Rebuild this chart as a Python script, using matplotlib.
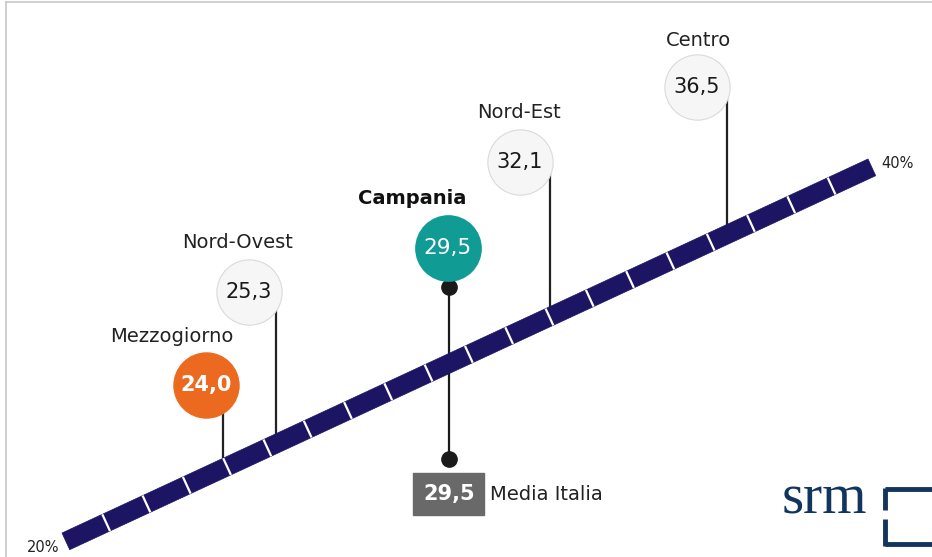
import matplotlib.pyplot as plt
from matplotlib.patches import Polygon, Rectangle
import numpy as np

plt.rcParams['font.family'] = ['DejaVu Sans']

# data (%, valori)
regions = ['Mezzogiorno', 'Nord-Ovest', 'Nord-Est', 'Centro']
values = [24.0, 25.3, 32.1, 36.5]
value_labels = ['24,0', '25,3', '32,1', '36,5']
campania_value = 29.5
campania_label = '29,5'
italia_value = 29.5
italia_label = '29,5'
scale_min, scale_max = 20, 40
scale_labels = ['20%', '40%']

# layout (pixels)
W, H = 932, 557
X0 = 62.0        # pixel x of 20%
PXU = 40.3       # pixels per percentage point
Y0 = 533.0       # pixel y of band top edge at 20%
SLOPE = 18.7     # pixels up per percentage point
THICK_X, THICK_Y = 7.7, 16.7
circle_dx = [-17, -27, -30, -30]       # circle centre offset from leader
circle_y = [385, 292, 162, 87]
label_dx = [-51, -38, -31, -28]
label_y = [337, 243, 113, 40]
circle_fill = ['#ec6a1f', '#f6f6f6', '#f6f6f6', '#f6f6f6']
circle_text = ['white', '#1a1a1a', '#1a1a1a', '#1a1a1a']
circle_weight = ['bold', 'normal', 'normal', 'normal']

NAVY = '#1c1564'
TEAL = '#109c94'


def dv(px):
    return px / PXU


def ytop(v):
    return Y0 - (v - scale_min) * SLOPE


fig = plt.figure(figsize=(W / 100, H / 100), dpi=100)
ax = fig.add_axes([0, 0, 1, 1])
ax.set_xlim(scale_min - dv(X0), scale_min + dv(W - X0))
ax.set_ylim(H, 0)
ax.axis('off')

# frame lines
ax.plot([scale_min - dv(X0 - 6), scale_min + dv(W - X0)], [2, 2], color='#c8c8c8', lw=1.2)
ax.plot([scale_min - dv(X0 - 6)] * 2, [2, H], color='#c8c8c8', lw=1.2)

# band
band = Polygon([(scale_min, ytop(scale_min)), (scale_max, ytop(scale_max)),
                (scale_max + dv(THICK_X), ytop(scale_max) + THICK_Y),
                (scale_min + dv(THICK_X), ytop(scale_min) + THICK_Y)],
               closed=True, facecolor=NAVY, edgecolor=NAVY, lw=0.5, zorder=3)
ax.add_patch(band)
for t in np.arange(scale_min + 1, scale_max):
    ax.plot([t, t + dv(THICK_X)], [ytop(t), ytop(t) + THICK_Y], color='white', lw=1.6,
            solid_capstyle='butt', zorder=4)

ax.text(scale_min - dv(3), ytop(scale_min) + 14, scale_labels[0], ha='right', va='center',
        fontsize=10.5, color='#222222')
ax.text(scale_max + dv(THICK_X + 6), ytop(scale_max) + 4, scale_labels[1], ha='left', va='center',
        fontsize=10.5, color='#222222')

# regions
for i, (name, v) in enumerate(zip(regions, values)):
    cx = v + dv(circle_dx[i])
    ax.plot([v, v], [circle_y[i], ytop(v)], color='#222222', lw=1.6, zorder=2)
    ax.scatter([cx], [circle_y[i]], s=47 ** 2, color=circle_fill[i],
               edgecolors='#dadada' if circle_fill[i] != '#ec6a1f' else '#ec6a1f',
               linewidths=0.8, zorder=5)
    ax.text(cx, circle_y[i], value_labels[i], ha='center', va='center', fontsize=15,
            color=circle_text[i], fontweight=circle_weight[i], zorder=6)
    ax.text(v + dv(label_dx[i]), label_y[i], name, ha='center', va='center', fontsize=14,
            color='#222222')

# Campania and media Italia
cv = campania_value + dv(4)
ax.plot([cv, cv], [287, 459], color='#1a1a1a', lw=1.6, zorder=2)
ax.scatter([cv, cv], [287, 459], s=11 ** 2, color='#1a1a1a', zorder=3)
ax.scatter([cv - dv(1)], [248], s=47 ** 2, color=TEAL, edgecolors=TEAL, zorder=5)
ax.text(cv - dv(1), 248, campania_label, ha='center', va='center', fontsize=15.5,
        color='white', zorder=6)
ax.text(cv - dv(37), 198, 'Campania', ha='center', va='center', fontsize=14,
        fontweight='bold', color='#111111')

ax.add_patch(Rectangle((cv - dv(36), 473), dv(71), 42, facecolor='#696969',
                       edgecolor='#696969', zorder=3))
ax.text(cv, 494, italia_label, ha='center', va='center', fontsize=15, color='white',
        fontweight='bold', zorder=4)
ax.text(cv + dv(41), 494, 'Media Italia', ha='left', va='center', fontsize=14,
        color='#222222')

# srm logo
LOGO = '#11355e'
ax.text(scale_min + dv(782 - X0), 513, 'srm', ha='left', va='baseline', fontsize=41,
        family='Liberation Serif', color=LOGO)
lx = scale_min + dv(885 - X0)
ax.plot([lx, scale_min + dv(W - X0)], [489, 489], color=LOGO, lw=3.5, solid_capstyle='butt')
ax.plot([lx, scale_min + dv(W - X0)], [544, 544], color=LOGO, lw=3.5, solid_capstyle='butt')
ax.plot([lx, lx], [487.5, 510], color=LOGO, lw=3.5, solid_capstyle='butt')
ax.plot([lx, lx], [519, 545.5], color=LOGO, lw=3.5, solid_capstyle='butt')

fig.savefig('out.png', dpi=100)
